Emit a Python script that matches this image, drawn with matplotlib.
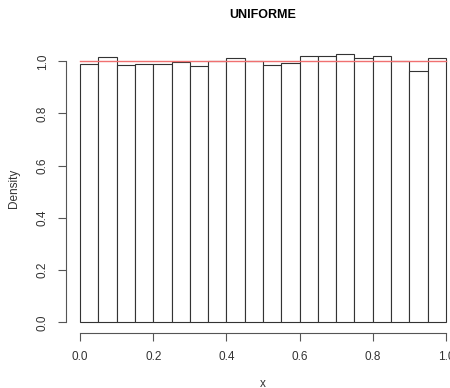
import matplotlib
matplotlib.use("Agg")
import matplotlib.pyplot as plt
import numpy as np

plt.rcParams['font.family'] = ['Liberation Sans', 'DejaVu Sans']

# histogram of a uniform sample, 20 bins on [0, 1]
bin_edges = [i / 20 for i in range(21)]
densities = [0.990, 1.015, 0.987, 0.991, 0.988, 0.997, 0.983, 1.001, 1.011, 1.000,
             0.986, 0.994, 1.020, 1.022, 1.029, 1.014, 1.022, 1.000, 0.964, 1.013]
x_ticks = [0.0, 0.2, 0.4, 0.6, 0.8, 1.0]
y_ticks = [0.0, 0.2, 0.4, 0.6, 0.8, 1.0]

fig = plt.figure(figsize=(4.5, 3.88), dpi=100)
ax = fig.add_axes([65.5 / 450, 55 / 388, 395 / 450, 290 / 388])

lefts = np.array(bin_edges[:-1])
widths = np.diff(bin_edges)
ax.bar(lefts, densities, width=widths, align='edge', color='white',
       edgecolor='#333333', linewidth=0.8)

# theoretical density
ax.plot([0, 1], [1, 1], color='#f07070', linewidth=1)

ax.set_xlim(-0.04, 1.04)
ax.set_ylim(-0.041, 1.07)

for s in ['top', 'right']:
    ax.spines[s].set_visible(False)
ax.spines['left'].set_bounds(0, 1)
ax.spines['bottom'].set_bounds(0, 1)
ax.spines['left'].set_color('#555555')
ax.spines['bottom'].set_color('#555555')

ax.set_xticks(x_ticks)
ax.set_xticklabels([f"{v:.1f}" for v in x_ticks])
ax.set_yticks(y_ticks)
ax.set_yticklabels([f"{v:.1f}" for v in y_ticks], rotation=90, va='center')
ax.tick_params(axis='both', length=6, width=0.8, color='#555555',
               labelsize=8.5, labelcolor='#333333')
ax.tick_params(axis='x', pad=7)
ax.tick_params(axis='y', pad=6)

ax.set_xlabel("x", fontsize=8.5, labelpad=11, color='#333333')
ax.set_ylabel("Density", fontsize=8.5, labelpad=12, color='#333333')
fig.text(263 / 450, 1 - 15 / 388, "UNIFORME", ha='center', va='center',
         fontsize=9, fontweight='bold')

fig.savefig("out.png", dpi=100)
